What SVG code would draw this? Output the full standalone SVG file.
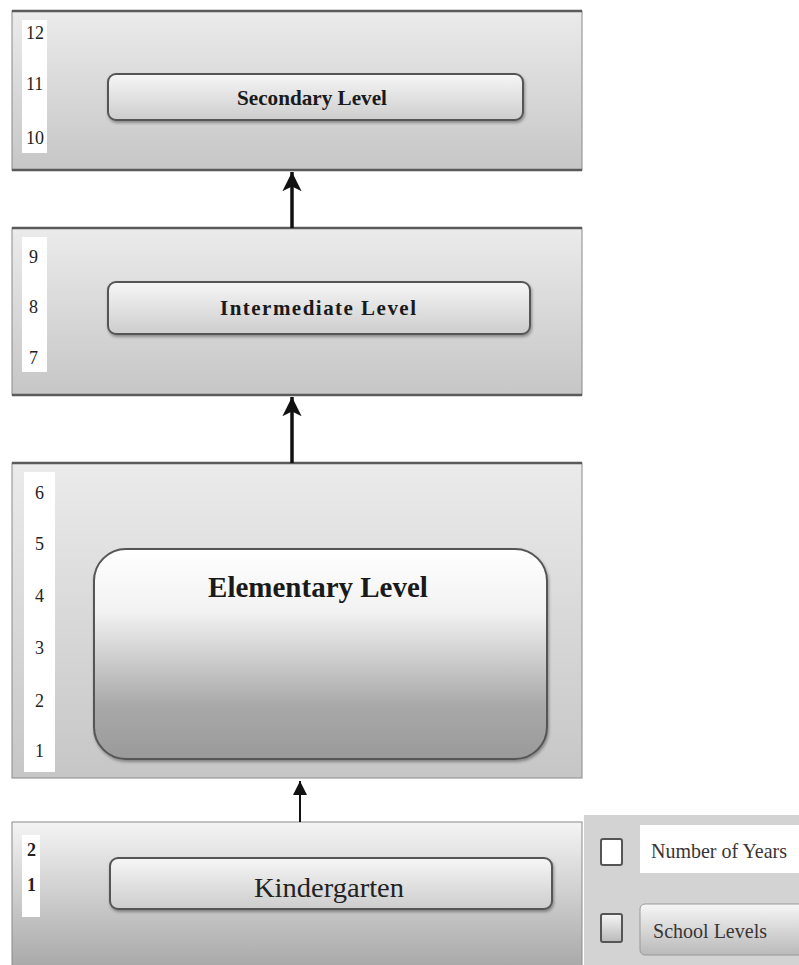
<svg xmlns="http://www.w3.org/2000/svg" width="799" height="965" viewBox="0 0 799 965">
  <style>
    .panel { stroke: #8a8a8a; stroke-width: 1; }
    .edge { stroke: #5a5a5a; stroke-width: 2.5; }
    .strip { fill: #ffffff; }
    .num { font-family: "Liberation Serif", "Times New Roman", serif; font-size: 18px; fill: #222; }
    .lvl { font-family: "Liberation Serif", "Times New Roman", serif; font-weight: bold; fill: #1a1a1a; text-anchor: middle; }
    .box { stroke: #555; stroke-width: 2; }
    .leg { font-family: "Liberation Serif", "Times New Roman", serif; font-size: 21px; fill: #3a3434; }
    .conn { stroke: #111; fill: none; }
  </style>
  <defs>
    <linearGradient id="gPanel" x1="0" y1="0" x2="0" y2="1">
      <stop offset="0" stop-color="#ebebeb"/>
      <stop offset="1" stop-color="#c6c6c6"/>
    </linearGradient>
    <linearGradient id="gPanelK" x1="0" y1="0" x2="0" y2="1">
      <stop offset="0" stop-color="#f4f4f4"/>
      <stop offset="1" stop-color="#a6a6a6"/>
    </linearGradient>
    <linearGradient id="gBox" x1="0" y1="0" x2="0" y2="1">
      <stop offset="0" stop-color="#f6f6f6"/>
      <stop offset="1" stop-color="#cdcdcd"/>
    </linearGradient>
    <linearGradient id="gBoxBig" x1="0" y1="0" x2="0" y2="1">
      <stop offset="0" stop-color="#ffffff"/>
      <stop offset="0.3" stop-color="#f2f2f2"/>
      <stop offset="0.75" stop-color="#a8a8a8"/>
      <stop offset="1" stop-color="#9a9a9a"/>
    </linearGradient>
    <linearGradient id="gLeg" x1="0" y1="0" x2="0" y2="1">
      <stop offset="0" stop-color="#f6f6f6"/>
      <stop offset="1" stop-color="#b9b9b9"/>
    </linearGradient>
    <filter id="shadow" x="-5%" y="-20%" width="110%" height="150%">
      <feDropShadow dx="1" dy="2" stdDeviation="1.5" flood-color="#000" flood-opacity="0.35"/>
    </filter>
    <marker id="headBig" viewBox="0 0 10 10" refX="10" refY="5" markerWidth="5.5" markerHeight="5.5" markerUnits="strokeWidth" orient="auto">
      <path d="M0,0 L10,5 L0,10 L2.5,5 z" fill="#111"/>
    </marker>
    <marker id="headSmall" viewBox="0 0 10 10" refX="10" refY="5" markerWidth="7" markerHeight="7" markerUnits="strokeWidth" orient="auto">
      <path d="M0,0 L10,5 L0,10 z" fill="#111"/>
    </marker>
  </defs>

  <rect width="799" height="965" fill="#ffffff"/>

  <!-- Secondary level: grades 10-12 -->
  <g id="secondary">
    <rect class="panel" x="12" y="11" width="570" height="159" fill="url(#gPanel)"/>
    <line class="edge" x1="12" y1="11" x2="582" y2="11"/>
    <line class="edge" x1="12" y1="170" x2="582" y2="170"/>
    <rect class="strip" x="22" y="20" width="25" height="133"/>
    <text class="num" x="26" y="39">12</text>
    <text class="num" x="26" y="90">11</text>
    <text class="num" x="26" y="144">10</text>
    <rect class="box" x="108" y="74" width="415" height="46" rx="8" fill="url(#gBox)" filter="url(#shadow)"/>
    <text class="lvl" x="312" y="105" font-size="21" textLength="150" lengthAdjust="spacingAndGlyphs">Secondary Level</text>
  </g>

  <!-- Intermediate level: grades 7-9 -->
  <g id="intermediate">
    <rect class="panel" x="12" y="228" width="570" height="167" fill="url(#gPanel)"/>
    <line class="edge" x1="12" y1="228" x2="582" y2="228"/>
    <line class="edge" x1="12" y1="395" x2="582" y2="395"/>
    <rect class="strip" x="22" y="237" width="25" height="135"/>
    <text class="num" x="29" y="263">9</text>
    <text class="num" x="29" y="313">8</text>
    <text class="num" x="29" y="364">7</text>
    <rect class="box" x="108" y="282" width="422" height="52" rx="8" fill="url(#gBox)" filter="url(#shadow)"/>
    <text class="lvl" x="318" y="315" font-size="21" textLength="196" lengthAdjust="spacing">Intermediate Level</text>
  </g>

  <!-- Elementary level: grades 1-6 -->
  <g id="elementary">
    <rect class="panel" x="12" y="463" width="570" height="315" fill="url(#gPanel)"/>
    <line class="edge" x1="12" y1="463" x2="582" y2="463"/>
    <rect class="strip" x="24" y="472" width="31" height="300"/>
    <text class="num" x="35" y="499" font-size="19">6</text>
    <text class="num" x="35" y="550" font-size="19">5</text>
    <text class="num" x="35" y="602" font-size="19">4</text>
    <text class="num" x="35" y="654" font-size="19">3</text>
    <text class="num" x="35" y="707" font-size="19">2</text>
    <text class="num" x="35" y="757" font-size="19">1</text>
    <rect class="box" x="94" y="549" width="453" height="210" rx="32" fill="url(#gBoxBig)" filter="url(#shadow)"/>
    <text class="lvl" x="318" y="597" font-size="29">Elementary Level</text>
  </g>

  <!-- Kindergarten: two years -->
  <g id="kindergarten">
    <rect class="panel" x="12" y="822" width="570" height="150" fill="url(#gPanelK)" stroke="#555" stroke-width="1.5"/>
    <rect class="strip" x="22" y="835" width="18" height="82"/>
    <text class="num" x="27" y="856" font-size="15" font-weight="bold">2</text>
    <text class="num" x="27" y="891" font-size="15" font-weight="bold">1</text>
    <rect class="box" x="110" y="858" width="442" height="51" rx="8" fill="url(#gBox)" filter="url(#shadow)"/>
    <text x="329" y="897" font-family="Liberation Serif, Times New Roman, serif" font-size="28" fill="#222" text-anchor="middle" textLength="150" lengthAdjust="spacingAndGlyphs">Kindergarten</text>
  </g>

  <!-- Legend -->
  <g id="legend">
    <rect x="584" y="815" width="215" height="150" fill="#d3d3d3"/>
    <rect x="601" y="839" width="21" height="26" rx="2" fill="#ffffff" stroke="#555" stroke-width="2"/>
    <rect x="640" y="825" width="159" height="48" fill="#ffffff"/>
    <text class="leg" x="651" y="858" textLength="136" lengthAdjust="spacingAndGlyphs">Number of Years</text>
    <rect x="601" y="914" width="21" height="28" rx="2" fill="url(#gLeg)" stroke="#555" stroke-width="2"/>
    <rect x="640" y="904" width="165" height="51" rx="5" fill="url(#gLeg)" stroke="#999" stroke-width="1"/>
    <text class="leg" x="653" y="938" textLength="114" lengthAdjust="spacingAndGlyphs">School Levels</text>
  </g>

  <!-- Progression arrows -->
  <g id="connectors">
    <line class="conn" x1="292" y1="228" x2="292" y2="172" stroke-width="3.5" marker-end="url(#headBig)"/>
    <line class="conn" x1="292" y1="463" x2="292" y2="397" stroke-width="3.5" marker-end="url(#headBig)"/>
    <line class="conn" x1="300" y1="822" x2="300" y2="781" stroke-width="2" marker-end="url(#headSmall)"/>
  </g>
</svg>
